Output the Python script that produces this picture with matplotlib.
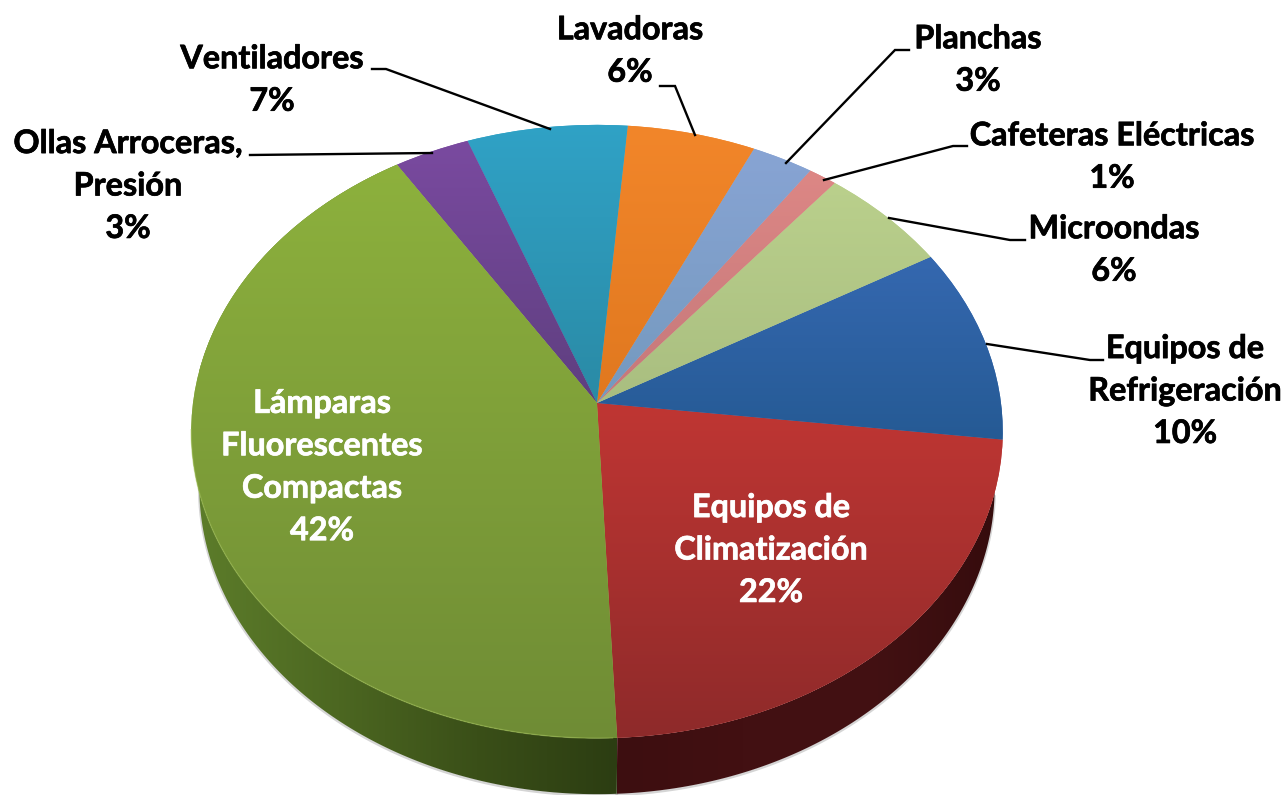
import numpy as np
import matplotlib
matplotlib.use("Agg")
import matplotlib.pyplot as plt
import matplotlib.patheffects as pe
from matplotlib.colors import LinearSegmentedColormap
from matplotlib.patches import Polygon
from matplotlib.transforms import Transform

plt.rcParams['font.family'] = ['Lato', 'DejaVu Sans']

# shares, in drawing order (counter clockwise)
names = ["Equipos de\nClimatización", "Equipos de\nRefrigeración", "Microondas",
         "Cafeteras Eléctricas", "Planchas", "Lavadoras", "Ventiladores",
         "Ollas Arroceras,\nPresión", "Lámparas\nFluorescentes\nCompactas"]
shares = [22.4, 10.3, 5.75, 1.25, 2.7, 5.6, 7.0, 3.3, 41.8]
shown = ["22%", "10%", "6%", "1%", "3%", "6%", "7%", "3%", "42%"]

top_colors = ["#C03633", "#3568B0", "#BAD08C", "#DD8785", "#88A4D4",
              "#F2862A", "#30A2C6", "#7A4AA0", "#8DB13D"]
low_colors = ["#8E2A2A", "#255A94", "#A9BE80", "#C4787A", "#7499BE",
              "#E0781F", "#2A8AA5", "#5E3F7F", "#6F8C35"]
side_colors = [["#3d0e10", "#421012", "#431113", "#360c0d"], None, None, None, None,
               None, None, None, ["#5c7c2a", "#4c6721", "#3a4f18", "#2c3d12"]]

label_pos = [(771, 550), (1185, 391), (1114, 250), (1112, 157), (978, 60),
             (630, 51), (272, 80), (128, 186), (322, 467)]
label_col = ["white", "black", "black", "black", "black",
             "black", "black", "black", "white"]
leaders = [None,
           [(1103, 360), (1090, 360), (987, 344)],
           [(1025, 240), (1010, 240), (889, 218)],
           [(967, 146), (953, 146), (824, 180)],
           [(909, 50), (895, 50), (786, 163)],
           [(660, 86), (675, 86), (695, 135)],
           [(372, 69), (386, 69), (550, 129)],
           [(250, 155), (432, 153)],
           None]

CX, CY = 597, 403
SX, SY, K = 404, 304, 0.093
DEPTH = 56


class PieView(Transform):
    # tilted disc: unit circle to picture pixels
    input_dims = 2
    output_dims = 2

    def transform_non_affine(self, xy):
        xy = np.asarray(xy, dtype=float)
        w = 1 + K * xy[:, 1]
        return np.column_stack([CX + SX * xy[:, 0] / w, CY - SY * xy[:, 1] / w])


view = PieView()


def rim(t1, t2, n=200):
    a = np.radians(np.linspace(t1, t2, n))
    return view.transform(np.column_stack([np.cos(a), np.sin(a)]))


fig = plt.figure(figsize=(12.87, 7.95), dpi=100)
ax = fig.add_axes([0, 0, 1, 1])
wedges, _ = ax.pie(shares, startangle=-87.4, colors=top_colors, wedgeprops={'linewidth': 0})
ax.set_aspect('auto')

for i, w in enumerate(wedges):
    w.set_transform(view + ax.transData)
    w.set_zorder(3)
    edge = rim(w.theta1, w.theta2)
    ys = np.append(edge[:, 1], CY)
    cmap = LinearSegmentedColormap.from_list("f%d" % i, [top_colors[i], low_colors[i]])
    im = ax.imshow(np.linspace(0, 1, 256)[:, None], cmap=cmap, aspect='auto', zorder=4,
                   extent=(min(edge[:, 0].min(), CX) - 5, max(edge[:, 0].max(), CX) + 5,
                           ys.max() + 1, ys.min() - 1))
    im.set_clip_path(w)

    # side of the disc
    if side_colors[i] is not None:
        low = edge.copy()
        low[:, 0] = CX + (low[:, 0] - CX) * 0.98
        low[:, 1] = low[:, 1] + DEPTH
        poly = Polygon(np.vstack([edge, low[::-1]]), closed=True, fc='none', ec='none', zorder=2)
        ax.add_patch(poly)
        cmap = LinearSegmentedColormap.from_list("s%d" % i, side_colors[i])
        im = ax.imshow(np.linspace(0, 1, 256)[None, :], cmap=cmap, aspect='auto', zorder=2,
                       extent=(low[:, 0].min(), low[:, 0].max(), low[:, 1].max() + 2, edge[:, 1].min() - 2))
        im.set_clip_path(poly)
        ax.plot(low[:, 0], low[:, 1] + 1, color='#888888', lw=2, alpha=0.35, zorder=1)

# light edge on the front of the big slice
front = rim(185, 272)
ax.plot(front[:, 0], front[:, 1], color='#9dbb55', lw=1, alpha=0.5, zorder=5)

for i in range(len(names)):
    t = ax.text(label_pos[i][0], label_pos[i][1], names[i] + "\n" + shown[i], color=label_col[i],
                fontsize=23.3, fontweight='bold', ha='center', va='center', linespacing=1.56, zorder=6)
    t.set_path_effects([pe.withStroke(linewidth=0.5, foreground=label_col[i])])
    if leaders[i] is not None:
        xs, ys = zip(*leaders[i])
        ax.plot(xs, ys, color='black', lw=1.7, zorder=6, solid_joinstyle='miter')

ax.set_xlim(0, 1287)
ax.set_ylim(795, 0)
ax.axis('off')
fig.savefig("out.png", dpi=100, facecolor='white')
